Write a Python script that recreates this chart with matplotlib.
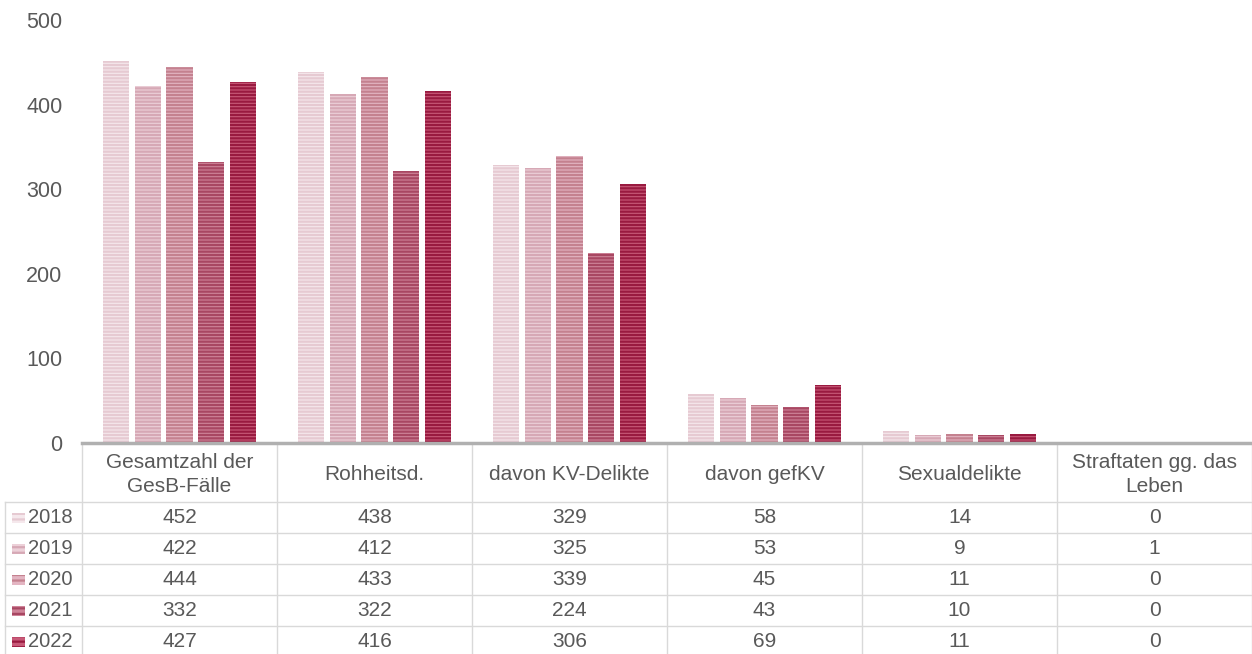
import matplotlib
matplotlib.use("Agg")
import matplotlib.pyplot as plt
import numpy as np

plt.rcParams['font.family'] = ['Liberation Sans', 'DejaVu Sans']
plt.rcParams['hatch.linewidth'] = 1.6

categories = ["Gesamtzahl der\nGesB-Fälle", "Rohheitsd.", "davon KV-Delikte",
              "davon gefKV", "Sexualdelikte", "Straftaten gg. das\nLeben"]
years = ["2018", "2019", "2020", "2021", "2022"]
values = {
    "2018": [452, 438, 329, 58, 14, 0],
    "2019": [422, 412, 325, 53, 9, 1],
    "2020": [444, 433, 339, 45, 11, 0],
    "2021": [332, 322, 224, 43, 10, 0],
    "2022": [427, 416, 306, 69, 11, 0],
}
face_colors = ["#f5e8ec", "#ecd0d8", "#e3b5c2", "#cf8499", "#c85a78"]
stripe_colors = ["#e6cad2", "#d6a8b5", "#c4818f", "#a84762", "#991a40"]
yticks = [0, 100, 200, 300, 400, 500]

W, H = 1252, 654
fig = plt.figure(figsize=(W / 100, H / 100), dpi=100)

x0, x1 = 82, 1252
y_zero, y_top = 443, 20
ax = fig.add_axes([x0 / W, (H - y_zero) / H, (x1 - x0) / W, (y_zero - y_top) / H])

n_cat = len(categories)
x = np.arange(n_cat)
bar_w = 0.135
step = 0.163
text_col = "#595959"
for i, yr in enumerate(years):
    offs = (i - 2) * step
    ax.bar(x + offs, values[yr], width=bar_w, color=face_colors[i],
           edgecolor=stripe_colors[i], hatch="-----", linewidth=0)

ax.set_xlim(-0.5, n_cat - 0.5)
ax.set_ylim(0, 500)
ax.set_yticks(yticks)
ax.set_yticklabels([str(t) for t in yticks], fontsize=15.5, color=text_col)
ax.tick_params(axis="y", length=0, pad=14)
ax.set_xticks([])
for s in ["top", "right", "left"]:
    ax.spines[s].set_visible(False)
ax.spines["bottom"].set_color("#b0b0b0")
ax.spines["bottom"].set_linewidth(2.5)

# Data table under the plot
tab = fig.add_axes([0, 0, 1, 1], zorder=-1)
tab.set_xlim(0, W)
tab.set_ylim(H, 0)
tab.axis("off")
grid_col = "#d9d9d9"
col_edges = [x0 + k * (x1 - x0) / n_cat for k in range(n_cat + 1)]
header_bottom = 502
row_h = 31
row_edges = [header_bottom + k * row_h for k in range(len(years) + 1)]

for cx in col_edges:
    tab.plot([cx, cx], [y_zero + 2, H], color=grid_col, lw=1)
tab.plot([5, 5], [header_bottom, H], color=grid_col, lw=1)
for ry in row_edges[:-1]:
    tab.plot([5, x1], [ry, ry], color=grid_col, lw=1)

for j, cat in enumerate(categories):
    cx = (col_edges[j] + col_edges[j + 1]) / 2
    tab.text(cx, (y_zero + header_bottom) / 2 + 2, cat, ha="center", va="center",
             fontsize=15, color=text_col, linespacing=1.3)

for i, yr in enumerate(years):
    cy = row_edges[i] + row_h / 2
    tab.add_patch(plt.Rectangle((12, cy - 5), 13, 10, facecolor=face_colors[i],
                                edgecolor=stripe_colors[i], hatch="---", lw=0))
    tab.text(28, cy, yr, ha="left", va="center", fontsize=14.5, color=text_col)
    for j in range(n_cat):
        cx = (col_edges[j] + col_edges[j + 1]) / 2
        tab.text(cx, cy, str(values[yr][j]), ha="center", va="center",
                 fontsize=15, color=text_col)

fig.savefig("out.png", dpi=100)
